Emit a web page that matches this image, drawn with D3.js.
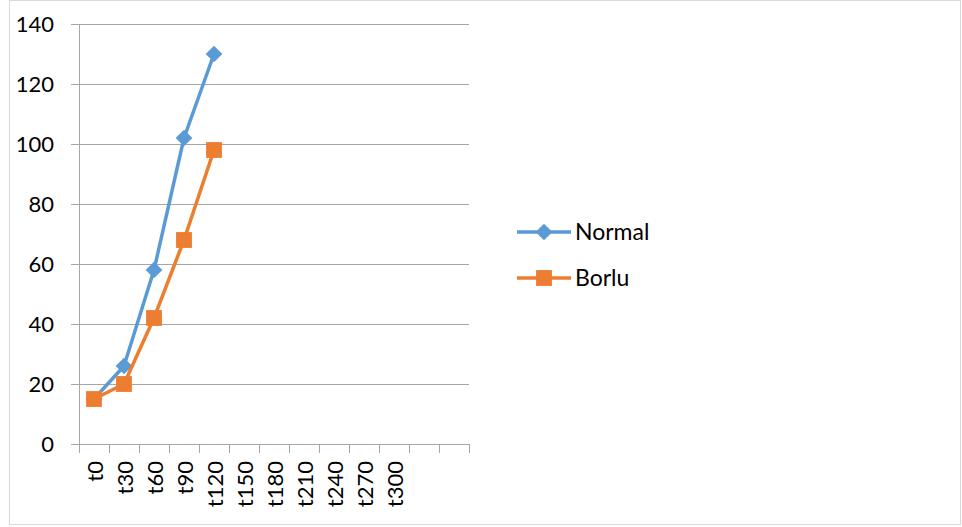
<!DOCTYPE html>
<html>
    <head>
        <meta charset="utf-8">
        <title>Normal vs Borlu</title>
        <style>
body {
    margin: 0;
    background-color: white;
}

svg {
    font-family: Lato, "Open Sans", sans-serif;
}

.grid line {
    stroke: #a6a6a6;
    stroke-width: 1;
}
</style>
        <script src="https://d3js.org/d3.v7.min.js"></script>
    </head>
    <body>
        <script>
var categories = ['t0', 't30', 't60', 't90', 't120', 't150', 't180', 't210', 't240', 't270', 't300', '', ' '];
var normal = [15, 26, 58, 102, 130];
var borlu = [15, 20, 42, 68, 98];
var yTicks = [0, 20, 40, 60, 80, 100, 120, 140];

var width = 962,
    height = 527;

var svg = d3.select('body')
    .append('svg')
    .attr('width', width)
    .attr('height', height);

// outer frame
svg.append('rect')
    .attr('x', 9.5)
    .attr('y', 0.5)
    .attr('width', 951)
    .attr('height', 524)
    .attr('fill', 'white')
    .attr('stroke', '#d9d9d9');

var plotLeft = 79, plotRight = 469, plotTop = 24, plotBottom = 444;

var x = d3.scaleBand()
    .domain(categories)
    .range([plotLeft, plotRight]);

var y = d3.scaleLinear()
    .domain([0, 140])
    .range([plotBottom, plotTop]);

// gridlines
svg.append('g')
    .attr('class', 'grid')
    .selectAll('line')
    .data(yTicks)
    .enter()
    .append('line')
    .attr('x1', plotLeft - 8)
    .attr('x2', plotRight)
    .attr('y1', function (d) { return Math.round(y(d)) + 0.5; })
    .attr('y2', function (d) { return Math.round(y(d)) + 0.5; });

// y axis line
svg.append('line')
    .attr('x1', plotLeft + 0.5).attr('x2', plotLeft + 0.5)
    .attr('y1', plotTop).attr('y2', plotBottom)
    .attr('stroke', '#a6a6a6');

// y labels
svg.append('g')
    .selectAll('text')
    .data(yTicks)
    .enter()
    .append('text')
    .attr('x', 54)
    .attr('y', function (d) { return y(d); })
    .attr('dy', '0.35em')
    .attr('text-anchor', 'end')
    .attr('font-size', 22)
    .attr('fill', '#000')
    .text(function (d) { return d; });

// x ticks
var xTickPos = categories.map(function (c) { return x(c); }).concat([plotRight]);
svg.append('g')
    .selectAll('line')
    .data(xTickPos)
    .enter()
    .append('line')
    .attr('x1', function (d) { return Math.round(d) + 0.5; })
    .attr('x2', function (d) { return Math.round(d) + 0.5; })
    .attr('y1', plotBottom)
    .attr('y2', plotBottom + 9)
    .attr('stroke', '#a6a6a6');

// x labels rotated
svg.append('g')
    .selectAll('text')
    .data(categories)
    .enter()
    .append('text')
    .attr('transform', function (d) {
        return 'translate(' + (x(d) + x.bandwidth() / 2 + 1) + ',' + (plotBottom + 17) + ') rotate(-90)';
    })
    .attr('dy', '0.35em')
    .attr('text-anchor', 'end')
    .attr('font-size', 22)
    .attr('fill', '#000')
    .text(function (d) { return d.trim(); });

var cx = function (d, i) { return x(categories[i]) + x.bandwidth() / 2; };

var line = d3.line()
    .x(cx)
    .y(function (d) { return y(d); });

var series = [
    { name: 'Normal', values: normal, color: '#5b9bd5', shape: d3.symbolSquare, size: 140, rot: 45 },
    { name: 'Borlu', values: borlu, color: '#ed7d31', shape: d3.symbolSquare, size: 250, rot: 0 }
];

series.forEach(function (s) {
    svg.append('path')
        .datum(s.values)
        .attr('d', line)
        .attr('fill', 'none')
        .attr('stroke', s.color)
        .attr('stroke-width', 3.5)
        .attr('stroke-linejoin', 'round');

    svg.append('g')
        .selectAll('path')
        .data(s.values)
        .enter()
        .append('path')
        .attr('transform', function (d, i) {
            return 'translate(' + cx(d, i) + ',' + y(d) + ') rotate(' + s.rot + ')';
        })
        .attr('d', d3.symbol().type(s.shape).size(s.size))
        .attr('fill', s.color);
});

// legend
var legend = svg.append('g')
    .selectAll('g')
    .data(series)
    .enter()
    .append('g')
    .attr('transform', function (d, i) { return 'translate(517,' + (232 + i * 46) + ')'; });

legend.append('line')
    .attr('x1', 0).attr('x2', 54)
    .attr('stroke', function (d) { return d.color; })
    .attr('stroke-width', 3.5);

legend.append('path')
    .attr('transform', function (d) { return 'translate(27,0) rotate(' + d.rot + ')'; })
    .attr('d', function (d) { return d3.symbol().type(d.shape).size(d.size)(); })
    .attr('fill', function (d) { return d.color; });

legend.append('text')
    .attr('x', 58)
    .attr('dy', '0.35em')
    .attr('font-size', 23)
    .attr('fill', '#000')
    .text(function (d) { return d.name; });

        </script>
    </body>
</html>
